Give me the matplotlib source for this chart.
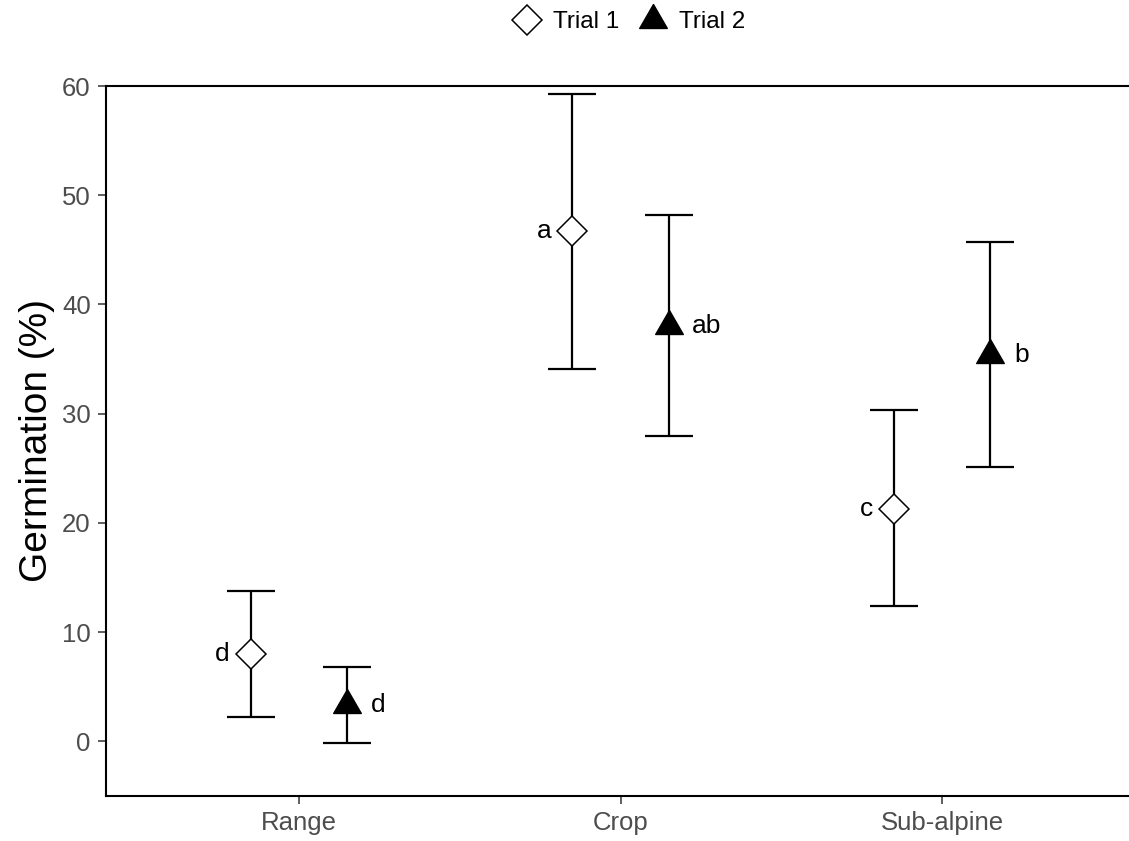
import numpy as np
import matplotlib
matplotlib.use('Agg')
import matplotlib.pyplot as plt
from matplotlib.lines import Line2D
from matplotlib.path import Path

plt.rcParams['font.family'] = ['Liberation Sans', 'DejaVu Sans']

# data
categories = ['Range', 'Crop', 'Sub-alpine']
trial1_mean = [8.0, 46.7, 21.3]
trial1_lo = [2.2, 34.1, 12.4]
trial1_hi = [13.8, 59.3, 30.3]
trial2_mean = [3.3, 38.0, 35.4]
trial2_lo = [-0.15, 27.95, 25.1]
trial2_hi = [6.8, 48.2, 45.7]
letters1 = ['d', 'a', 'c']
letters2 = ['d', 'ab', 'b']
yticks = [0, 10, 20, 30, 40, 50, 60]

# equilateral triangle like R pch 17 (centred on circumcentre)
tri = Path([(0, 1), (-0.866, -0.5), (0.866, -0.5), (0, 1)],
           [Path.MOVETO, Path.LINETO, Path.LINETO, Path.CLOSEPOLY])

fig = plt.figure(figsize=(11.29, 8.41), dpi=100)
ax = fig.add_axes([106 / 1129, 1 - 796 / 841, (1135 - 106) / 1129, (796 - 86) / 841])

x = np.arange(1, len(categories) + 1)
dodge = 0.15
lw = 1.6

m1 = np.array(trial1_mean)
m2 = np.array(trial2_mean)
err1 = [m1 - np.array(trial1_lo), np.array(trial1_hi) - m1]
err2 = [m2 - np.array(trial2_lo), np.array(trial2_hi) - m2]

ax.errorbar(x - dodge, m1, yerr=err1, fmt='none', ecolor='black',
            elinewidth=lw, capsize=17, capthick=lw, zorder=2)
ax.errorbar(x + dodge, m2, yerr=err2, fmt='none', ecolor='black',
            elinewidth=lw, capsize=17, capthick=lw, zorder=2)
ax.plot(x - dodge, m1, linestyle='none', marker='D', markersize=15.5,
        markerfacecolor='white', markeredgecolor='black', markeredgewidth=1.1, zorder=3)
ax.plot(x + dodge, m2, linestyle='none', marker=tri, markersize=23,
        markerfacecolor='black', markeredgecolor='black', zorder=3)

for xi, yi, lab in zip(x - dodge, m1, letters1):
    ax.annotate(lab, (xi, yi), xytext=(-15, 0), textcoords='offset points',
                ha='right', va='center', fontsize=19)
for xi, yi, lab in zip(x + dodge, m2, letters2):
    ax.annotate(lab, (xi, yi), xytext=(17, 0), textcoords='offset points',
                ha='left', va='center', fontsize=19)

ax.set_xlim(0.4, 3.6)
ax.set_ylim(-5, 60)
ax.set_xticks(x)
ax.set_xticklabels(categories)
ax.set_yticks(yticks)
ax.tick_params(axis='both', labelsize=18.5, labelcolor='#4D4D4D', color='#333333',
               length=5.5, width=1.1, pad=5.5)
ax.set_ylabel('Germination (%)', fontsize=28, labelpad=5)

for side in ['left', 'bottom', 'top']:
    ax.spines[side].set_linewidth(1.5)
    ax.spines[side].set_color('black')
ax.spines['right'].set_visible(False)

handles = [
    Line2D([], [], linestyle='none', marker='D', markersize=15.5,
           markerfacecolor='white', markeredgecolor='black', markeredgewidth=1.1),
    Line2D([], [], linestyle='none', marker=tri, markersize=23,
           markerfacecolor='black', markeredgecolor='black'),
]
fig.legend(handles, ['Trial 1', 'Trial 2'], loc='center', ncol=2, frameon=False,
           bbox_to_anchor=(627 / 1129, 1 - 22 / 841), fontsize=17.5,
           handletextpad=0.35, columnspacing=0.6, handlelength=1.5)

fig.savefig('out.png', dpi=100)
